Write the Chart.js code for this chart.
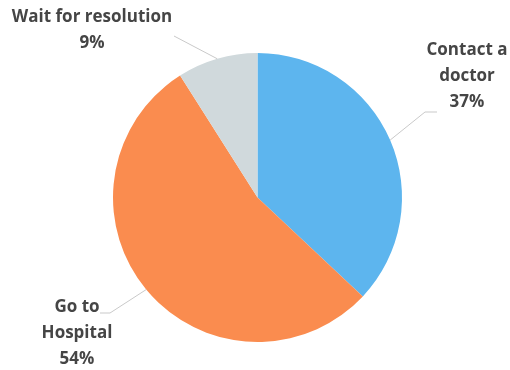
<!DOCTYPE html>
<html>
<head>
<meta charset="utf-8">
<script src="https://cdn.jsdelivr.net/npm/chart.js@4/dist/chart.umd.min.js"></script>
<style>
  html, body { margin: 0; padding: 0; background: #fff; }
  #wrap { width: 510px; height: 370px; }
</style>
</head>
<body>
<div id="wrap"><canvas id="pie" width="510" height="370"></canvas></div>
<script>
const labels = [['Contact a', 'doctor'], ['Go to', 'Hospital'], ['Wait for resolution']];
const values = [37, 54, 9];
const colors = ['#5db5ee', '#fa8c4f', '#d0d9dc'];

// where each label block sits and where its leader line bends
const labelSpots = [
  { x: 467, y: 50, bend: [425, 112], end: [437, 112] },
  { x: 77, y: 307, bend: [110, 313], end: [100, 313] },
  { x: 92, y: 17, bend: [174, 36], end: [174, 36] }
];

const outsideLabels = {
  id: 'outsideLabels',
  afterDraw(chart) {
    const ctx = chart.ctx;
    const arcs = chart.getDatasetMeta(0).data;
    const total = values.reduce((a, b) => a + b, 0);
    ctx.save();
    arcs.forEach((arc, i) => {
      const mid = (arc.startAngle + arc.endAngle) / 2;
      const sx = arc.x + Math.cos(mid) * arc.outerRadius;
      const sy = arc.y + Math.sin(mid) * arc.outerRadius;
      const s = labelSpots[i];
      ctx.strokeStyle = '#c9c9c9';
      ctx.lineWidth = 1;
      ctx.beginPath();
      ctx.moveTo(sx, sy);
      ctx.lineTo(s.bend[0], s.bend[1]);
      ctx.lineTo(s.end[0], s.end[1]);
      ctx.stroke();

      const lines = labels[i].concat([Math.round(values[i] / total * 100) + '%']);
      ctx.fillStyle = '#454545';
      ctx.font = 'bold 17px "Open Sans"';
      ctx.textAlign = 'center';
      ctx.textBaseline = 'middle';
      lines.forEach((t, j) => ctx.fillText(t, s.x, s.y + j * 26));
    });
    ctx.restore();
  }
};

new Chart(document.getElementById('pie'), {
  type: 'pie',
  data: {
    labels: labels.map(l => l.join(' ')),
    datasets: [{
      data: values,
      backgroundColor: colors,
      borderWidth: 0
    }]
  },
  options: {
    responsive: false,
    animation: false,
    layout: { padding: { top: 53, bottom: 28, left: 100, right: 95 } },
    plugins: {
      legend: { display: false },
      tooltip: { enabled: false }
    }
  },
  plugins: [outsideLabels]
});
</script>
</body>
</html>
